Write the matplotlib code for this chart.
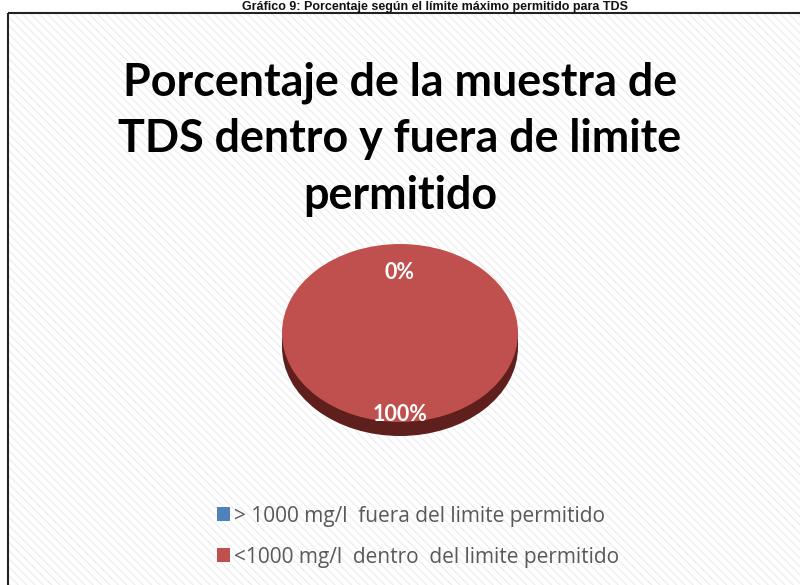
import matplotlib
matplotlib.use("Agg")
import matplotlib.pyplot as plt
from matplotlib.patches import Rectangle, Ellipse

caption = "Gráfico 9: Porcentaje según el límite máximo permitido para TDS"
title = "Porcentaje de la muestra de\nTDS dentro y fuera de limite\npermitido"
categories = ["> 1000 mg/l  fuera del limite permitido",
              "<1000 mg/l  dentro  del limite permitido"]
values = [0, 100]
colors = ["#4F81BD", "#C0504D"]

W, H = 800, 585
fig = plt.figure(figsize=(W / 100, H / 100), dpi=100)
fig.patch.set_facecolor("white")

# background frame with faint diagonal hatch
bg = fig.add_axes([0, 0, 1, 1])
bg.set_xlim(0, W)
bg.set_ylim(H, 0)
bg.axis("off")
bg.add_patch(Rectangle((8, 13), W, H, facecolor="white", edgecolor="#EFEFEF",
                       hatch="\\\\\\\\", linewidth=0))
bg.add_patch(Rectangle((8, 13), W + 10, H + 10, facecolor="none",
                       edgecolor="#222222", linewidth=1.5))
bg.text(435, 1, caption, ha="center", va="top", fontsize=9,
        fontweight="bold", family=["Liberation Sans", "DejaVu Sans"],
        color="#111111")
bg.text(400, 139, title, ha="center", va="center", fontsize=32.3,
        fontweight="bold", family=["Lato", "DejaVu Sans"], color="black",
        linespacing=1.43)

# pie
cx, cy, rx, ry, depth = 400, 333, 118, 89, 14
ax = fig.add_axes([(cx - rx) / W, 1 - (cy + ry) / H, 2 * rx / W, 2 * ry / H])
ax.set_zorder(2)
# 3D side
bg.add_patch(Rectangle((cx - rx, cy), 2 * rx, depth, facecolor="#6A2523",
                       edgecolor="none", zorder=3))
bg.add_patch(Ellipse((cx, cy + depth), 2 * rx, 2 * ry, facecolor="#5E1F1D",
                     edgecolor="none", zorder=3))
w, texts, autotexts = ax.pie(values, colors=colors, startangle=90, counterclock=False,
                             autopct=lambda p: f"{p:.0f}%", pctdistance=0.8,
                             wedgeprops=dict(linewidth=0),
                             textprops=dict(color="white", fontsize=15.5, fontweight="bold",
                                            family=["Lato", "DejaVu Sans"]))
# nudge labels slightly downward as in the reference
for t in autotexts:
    t.set_va("top")
ax.set_aspect("auto")
ax.set_xlim(-1, 1)
ax.set_ylim(-1, 1)

# legend
handles = [Rectangle((0, 0), 1, 1, facecolor=c) for c in colors]
leg = fig.legend(handles, categories, loc="upper left", bbox_to_anchor=(198 / W, 1 - 487 / H),
                 frameon=False, handlelength=0.65, handleheight=0.65,
                 handletextpad=0.2, labelspacing=0.95, labelcolor="#595959",
                 prop=dict(family=["Open Sans", "DejaVu Sans"], size=15))
fig.savefig("out.png", dpi=100)
